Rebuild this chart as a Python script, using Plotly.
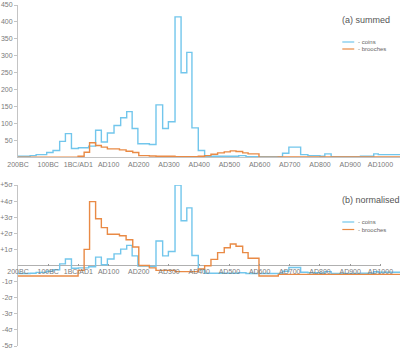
import plotly.graph_objects as go

# ---------------- data ----------------
tick_years = [-200, -100, 0, 100, 200, 300, 400, 500, 600, 700, 800, 900, 1000]
tick_labels = ["200BC", "100BC", "1BC/AD1", "AD100", "AD200", "AD300", "AD400",
               "AD500", "AD600", "AD700", "AD800", "AD900", "AD1000"]

END_YEAR = 1065

coin_start = [-200, -160, -140, -105, -84, -62, -43, -23, 0, 34, 57, 76, 96, 118, 140,
              160, 178, 197, 235, 257, 279, 298, 320, 340, 359, 376, 397, 418, 531, 555,
              676, 697, 736, 760, 800, 816, 837, 934, 978, 993]
coin_summed = [3, 5, 8, 14, 20, 47, 70, 26, 28, 33, 80, 45, 72, 94, 117,
               135, 85, 40, 38, 155, 85, 105, 415, 250, 310, 87, 20, 3, 5, 2,
               12, 30, 8, 5, 3, 10, 2, 3, 10, 8]
coin_norm = [-0.5, -0.48, -0.43, -0.36, -0.26, 0.1, 0.4, -0.17, -0.15, -0.08, 0.52, 0.05, 0.4, 0.72, 1.02,
             1.25, 0.6, -0.03, -0.06, 1.52, 0.6, 0.87, 5.0, 2.78, 3.58, 0.62, -0.25, -0.48, -0.45, -0.5,
             -0.36, -0.12, -0.42, -0.45, -0.48, -0.38, -0.5, -0.48, -0.39, -0.42]

brooch_start = [-200, -1, 19, 37, 57, 76, 96, 136, 158, 180, 200, 235, 257, 320, 397,
                418, 439, 461, 483, 503, 522, 544, 562, 598, 662]
brooch_summed = [0, 3, 15, 43, 35, 30, 25, 22, 18, 14, 5, 4, 3, 2, 3,
                 5, 9, 13, 16, 19, 17, 13, 10, 0, 1]
brooch_norm = [-0.65, -0.3, 1.0, 3.97, 2.9, 2.35, 1.94, 1.85, 1.6, 1.15, 0.0, -0.15, -0.3, -0.38, -0.22,
               -0.02, 0.38, 0.8, 1.1, 1.34, 1.2, 0.8, 0.45, -0.65, -0.55]

sigma_ticks = [-5, -4, -3, -2, -1, 1, 2, 3, 4, 5]
sigma_labels = ["-5σ", "-4σ", "-3σ", "-2σ", "-1σ", "+1σ", "+2σ", "+3σ", "+4σ", "+5σ"]

COIN_COLOR = "#72c6ec"
BROOCH_COLOR = "#e98a45"
AXIS_COLOR = "#c4c4c4"
TEXT_COLOR = "#7a7a7a"
FONT = "Liberation Sans, Arial, sans-serif"

W, H = 400, 351
ML, MR, MT, MB = 16, 0, 5, 5


def step(xs, ys):
    return list(xs) + [END_YEAR], list(ys) + [ys[-1]]


def px(x):
    return (x - ML) / (W - ML - MR)


def py(y):
    return (H - MB - y) / (H - MT - MB)


fig = go.Figure()

for xs, ys, col, ax in [
    (coin_start, coin_summed, COIN_COLOR, ("x", "y")),
    (brooch_start, brooch_summed, BROOCH_COLOR, ("x", "y")),
    (coin_start, coin_norm, COIN_COLOR, ("x2", "y2")),
    (brooch_start, brooch_norm, BROOCH_COLOR, ("x2", "y2")),
]:
    sx, sy = step(xs, ys)
    fig.add_trace(go.Scatter(x=sx, y=sy, mode="lines", line=dict(color=col, width=1.4, shape="hv"),
                             xaxis=ax[0], yaxis=ax[1], showlegend=False, hoverinfo="skip"))

tickfont = dict(size=7, color=TEXT_COLOR, family=FONT)

fig.update_layout(
    width=W, height=H,
    margin=dict(l=ML, r=MR, t=MT, b=MB),
    paper_bgcolor="white", plot_bgcolor="white",
    font=dict(family=FONT, color=TEXT_COLOR),
    xaxis=dict(domain=[0, 1], range=[-200, END_YEAR], anchor="y",
               tickvals=tick_years, ticktext=tick_labels, tickfont=tickfont,
               showline=True, linecolor=AXIS_COLOR, linewidth=1, ticks="",
               showgrid=False, zeroline=False),
    yaxis=dict(domain=[py(157.3), 1], range=[0, 450], anchor="x",
               tickvals=list(range(50, 451, 50)), tickfont=tickfont,
               showline=True, linecolor=AXIS_COLOR, linewidth=1,
               ticks="outside", ticklen=3, tickcolor=AXIS_COLOR,
               showgrid=False, zeroline=False),
    xaxis2=dict(domain=[0, 1], range=[-200, END_YEAR], anchor="free", position=py(265.5),
                tickvals=tick_years, ticktext=tick_labels, tickfont=tickfont,
                showline=False, ticks="inside", ticklen=2, tickcolor="#999999",
                showgrid=False, zeroline=False),
    yaxis2=dict(domain=[0, py(185)], range=[-5, 5], anchor="x2",
                tickvals=sigma_ticks, ticktext=sigma_labels, tickfont=tickfont,
                showline=True, linecolor=AXIS_COLOR, linewidth=1,
                ticks="outside", ticklen=3, tickcolor=AXIS_COLOR,
                showgrid=False, zeroline=False),
)

shapes = [dict(type="line", xref="x2", yref="y2", x0=-200, x1=1000, y0=0, y1=0,
               line=dict(color="#b0b0b0", width=1), layer="below")]
annotations = []

panels = [("(a) summed", 20, 42, 49), ("(b) normalised", 200, 222, 229.5)]
for title, ty, y1, y2 in panels:
    annotations.append(dict(text=title, xref="paper", yref="paper", x=px(340), y=py(ty),
                            xanchor="left", yanchor="middle", showarrow=False,
                            font=dict(size=9, color="#555555", family=FONT)))
    for yy, col, lab in [(y1, COIN_COLOR, "- coins"), (y2, BROOCH_COLOR, "- brooches")]:
        shapes.append(dict(type="line", xref="paper", yref="paper", x0=px(342), x1=px(354),
                           y0=py(yy), y1=py(yy), line=dict(color=col, width=1.2)))
        annotations.append(dict(text=lab, xref="paper", yref="paper", x=px(356), y=py(yy),
                                xanchor="left", yanchor="middle", showarrow=False,
                                font=dict(size=6, color="#666666", family=FONT)))

fig.update_layout(shapes=shapes, annotations=annotations)

fig.write_html("out.html")
